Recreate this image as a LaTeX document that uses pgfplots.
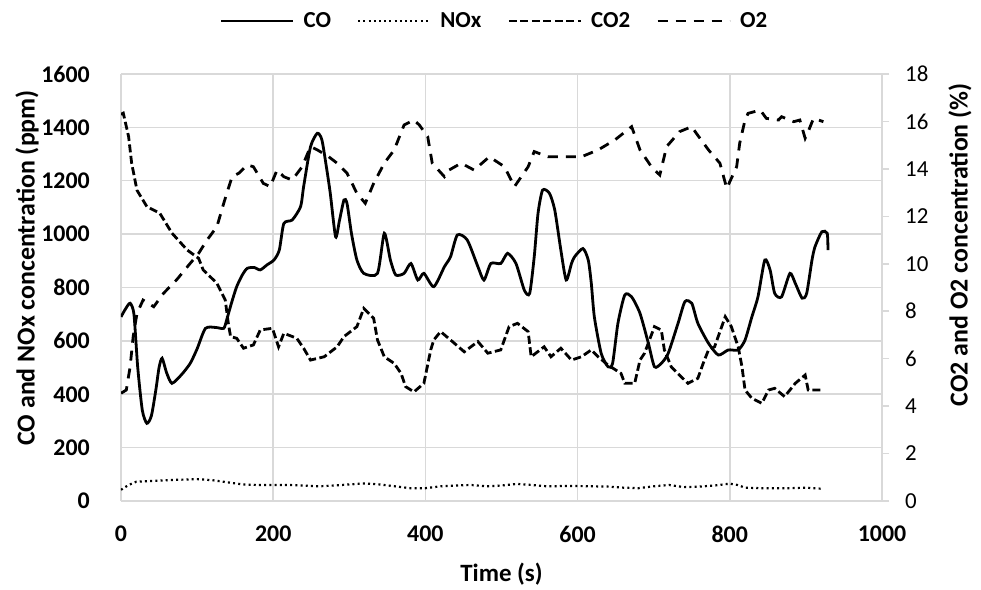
\documentclass[border=0pt]{standalone}
\usepackage{pgfplots}
\pgfplotsset{compat=1.18}
\usepackage{fontspec}
\setmainfont{Carlito}
\definecolor{gridgray}{RGB}{217,217,217}
\begin{document}
\begin{tikzpicture}
\path[use as bounding box] (-121bp,-89bp) rectangle (860bp,501bp);
\begin{axis}[
  at={(0,0)}, anchor=south west,
  scale only axis, width=761bp, height=427bp,
  xmin=0, xmax=1000, ymin=0, ymax=1600,
  xtick={0,200,...,1000}, ytick={0,200,...,1600},
  grid=major, major grid style={draw=gridgray, line width=1.5bp},
  axis line style={draw=none}, tick style={draw=none},
  /pgf/number format/assume math mode=true,
  /pgf/number format/1000 sep={},
  ticklabel style={font=\bfseries\fontsize{24}{24}\selectfont, inner sep=0pt},
  xticklabel style={anchor=north, yshift=-25bp},
  yticklabel style={anchor=east, xshift=-31bp},
  xlabel={Time (s)},
  xlabel style={font=\bfseries\fontsize{25}{25}\selectfont, inner sep=0pt,
    at={(axis description cs:0.5,0)}, anchor=center, yshift=-73bp},
  ylabel={CO and NOx concentration (ppm)},
  ylabel style={font=\bfseries\fontsize{26}{26}\selectfont, inner sep=0pt,
    at={(axis description cs:-0.1236,0.546)}, anchor=center},
]
\addplot[black, line width=2.8bp, smooth, tension=0.4] coordinates {
(0,690)(6,720)(12,741)(17,700)(22,500)(28,340)(34,291)(40,320)(46,420)(50,500)(54,535)(60,480)(67,441)(80,475)(91,516)(100,570)(111,647)(125,650)(135,647)(139,680)(145,740)(152,803)(160,850)(166,872)(175,875)(183,866)(192,885)(201,903)(208,940)(214,1040)(225,1053)(236,1103)(240,1178)(249,1327)(258,1378)(264,1353)(270,1250)(275,1153)(282,990)(287,1050)(293,1128)(297,1115)(303,1000)(310,903)(319,853)(337,853)(346,1003)(354,903)(361,847)(372,853)(381,890)(390,828)(398,853)(411,803)(425,878)(433,915)(442,997)(455,978)(469,878)(477,828)(486,890)(499,890)(508,928)(519,890)(530,790)(537,778)(543,915)(548,1078)(554,1165)(563,1153)(570,1090)(578,940)(585,828)(592,890)(596,915)(607,946)(614,903)(618,816)(622,690)(631,553)(640,503)(646,516)(653,666)(662,772)(671,765)(682,703)(693,591)(701,503)(710,516)(719,553)(732,666)(741,747)(750,741)(758,666)(772,591)(785,547)(798,566)(811,566)(820,603)(829,690)(837,765)(846,903)(853,865)(859,778)(868,765)(879,853)(886,816)(895,760)(901,778)(908,903)(912,953)(921,1009)(928,1003)(929,940)
};
\addplot[black, line width=2.2bp, dash pattern=on 2bp off 3.2bp] coordinates {
(0,42)(10,60)(20,72)(40,75)(60,78)(80,80)(100,82)(120,78)(140,70)(160,62)(180,60)(200,60)(220,60)(240,58)(260,55)(280,58)(300,62)(320,66)(340,62)(360,55)(380,48)(400,48)(420,55)(440,58)(460,60)(480,55)(500,58)(520,64)(540,60)(560,55)(580,56)(600,56)(620,55)(640,54)(660,50)(680,48)(700,55)(720,60)(740,52)(760,54)(780,58)(800,65)(810,60)(820,50)(840,48)(860,48)(880,48)(900,50)(920,46)
};
\end{axis}
\begin{axis}[
  at={(0,0)}, anchor=south west,
  scale only axis, width=761bp, height=427bp,
  xmin=0, xmax=1000, ymin=0, ymax=18,
  hide x axis,
  axis y line*=right,
  ytick={0,2,...,18},
  axis line style={draw=gridgray, line width=1.5bp},
  ytick style={draw=gridgray, line width=1.5bp},
  tick align=outside, major tick length=7bp,
  /pgf/number format/assume math mode=true,
  yticklabel style={font=\fontsize{23}{23}\selectfont, inner sep=0pt, anchor=west, xshift=16bp},
  ylabel={CO2 and O2 concentration (\%)},
  ylabel style={font=\bfseries\fontsize{26}{26}\selectfont, inner sep=0pt,
    at={(axis description cs:1.1025,0.6)}, anchor=center, rotate=0},
  legend style={at={(axis description cs:0.130,1.124)}, anchor=west, draw=none, fill=none,
    inner sep=0pt, outer sep=0pt,
    nodes={inner sep=0pt},
    font=\bfseries\fontsize{23}{23}\selectfont, legend columns=4,
    /tikz/every odd column/.append style={column sep=9bp},
    /tikz/every even column/.append style={column sep=26bp}},
  legend image code/.code={\draw[#1] (0bp,0bp) -- (72bp,0bp);},
]
\addlegendimage{black, line width=2.8bp}
\addlegendentry{CO}
\addlegendimage{black, line width=2.2bp, dash pattern=on 2bp off 3.2bp}
\addlegendentry{NOx}
\addplot[black, line width=2.8bp, dash pattern=on 8bp off 3.5bp] coordinates {
(0,16.3)(3,16.35)(10,15.36)(14,14.24)(21,13.1)(34,12.41)(51,12.13)(67,11.29)(87,10.58)(102,10.23)(108,9.74)(126,9.18)(137,8.47)(141,7.49)(144,6.93)(152,6.86)(161,6.44)(174,6.58)(183,7.21)(199,7.28)(207,6.5)(214,7.07)(231,6.86)(240,6.44)(249,5.94)(267,6.08)(284,6.5)(293,6.93)(310,7.35)(319,8.12)(332,7.7)(337,6.79)(346,6.08)(359,5.8)(368,5.38)(374,4.82)(385,4.6)(398,4.96)(407,6.37)(411,6.79)(420,7.14)(433,6.79)(451,6.29)(469,6.72)(482,6.23)(499,6.37)(510,7.35)(521,7.49)(535,7.14)(539,6.08)(556,6.5)(565,6.08)(578,6.44)(592,5.94)(605,6.08)(618,6.37)(627,6.08)(640,5.73)(657,5.38)(662,4.96)(675,4.96)(682,5.94)(688,6.23)(701,7.35)(710,7.21)(714,6.37)(723,5.66)(736,5.24)(745,4.96)(758,5.17)(765,5.8)(772,6.37)(780,6.5)(794,7.77)(802,7.35)(811,6.5)(816,5.66)(820,4.68)(829,4.33)(842,4.12)(851,4.68)(859,4.75)(872,4.4)(886,4.96)(899,5.31)(903,4.68)(912,4.68)(923,4.68)
};
\addlegendentry{CO2}
\addplot[black, line width=2.8bp, dash pattern=on 10bp off 8bp] coordinates {
(0,4.54)(7,4.68)(12,5.66)(16,6.93)(21,7.91)(29,8.47)(43,8.19)(56,8.76)(73,9.32)(91,10.02)(102,10.44)(113,11.0)(126,11.56)(135,12.55)(139,12.97)(146,13.67)(155,13.82)(166,14.17)(174,14.09)(187,13.39)(196,13.25)(205,13.95)(214,13.67)(225,13.53)(238,14.09)(249,14.94)(258,14.8)(273,14.51)(284,14.24)(297,13.82)(310,12.97)(321,12.55)(332,13.39)(346,14.24)(359,14.8)(372,15.85)(385,16.06)(392,15.85)(403,15.36)(409,14.24)(425,13.67)(431,13.95)(447,14.24)(464,13.95)(484,14.51)(504,14.09)(517,13.25)(535,14.09)(543,14.73)(561,14.51)(583,14.51)(605,14.51)(627,14.8)(649,15.22)(671,15.78)(682,14.8)(697,14.09)(708,13.74)(717,14.94)(734,15.57)(750,15.78)(756,15.5)(772,14.8)(787,14.24)(796,13.18)(809,14.09)(813,15.08)(820,16.06)(824,16.34)(840,16.48)(848,16.13)(864,16.06)(868,16.2)(884,15.99)(892,16.06)(899,15.29)(903,15.57)(910,16.13)(923,15.99)
};
\addlegendentry{O2}
\end{axis}
\end{tikzpicture}
\end{document}
